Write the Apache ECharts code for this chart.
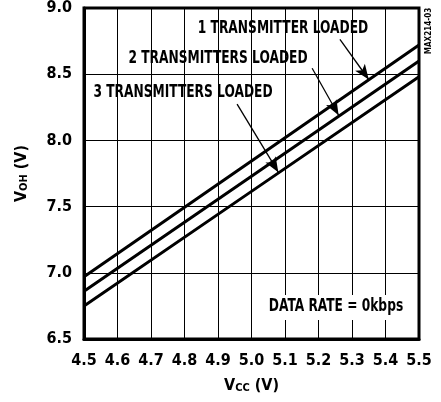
<!DOCTYPE html>
<html><head><meta charset="utf-8">
<script src="https://cdn.jsdelivr.net/npm/echarts@6/dist/echarts.min.js"></script>
<style>html,body{margin:0;padding:0;background:#fff}#c{width:441px;height:402px}</style>
</head><body><div id="c"></div>
<script>
var vcc = [4.5, 5.0, 5.5];
var voh1 = [6.97, 7.845, 8.72];
var voh2 = [6.86, 7.73, 8.60];
var voh3 = [6.75, 7.615, 8.48];
var xTicks = ['4.5','4.6','4.7','4.8','4.9','5.0','5.1','5.2','5.3','5.4','5.5'];
var yTicks = ['6.5','7.0','7.5','8.0','8.5','9.0'];
var seriesNames = ['1 TRANSMITTER LOADED', '2 TRANSMITTERS LOADED', '3 TRANSMITTERS LOADED'];
var arrows = [
  [[5.264, 8.763], [5.35, 8.46]],
  [[5.181, 8.545], [5.26, 8.19]],
  [[4.957, 8.274], [5.08, 7.76]]
];
var FONT = "'DejaVu Sans Condensed','Liberation Sans Narrow',Arial,sans-serif";
function pairs(ys){ return vcc.map(function(x,i){ return [x, ys[i]]; }); }
var chart = echarts.init(document.getElementById('c'), null, {renderer:'canvas'});
var lineStyle = {color:'#000', width:3};
function arrowMark(a){
  return {
    silent:true, animation:false,
    symbol:['none','arrow'], symbolSize:[9,15],
    lineStyle:{color:'#000', width:1.3, type:'solid'},
    label:{show:false},
    data:[[{coord:a[0]},{coord:a[1]}]]
  };
}
function txt(s, x, y, size, sx, extra){
  var o = {type:'text', x:x, y:y, scaleX:sx, z:11,
    style:{text:s, fill:'#000', font:'bold '+size+'px '+FONT, textAlign:'center', textVerticalAlign:'middle'}};
  if (extra) for (var k in extra) o[k]=extra[k];
  return o;
}
chart.setOption({
  animation:false,
  grid:{left:84, right:22, top:6.5, bottom:63, show:true, borderColor:'#000', borderWidth:3, containLabel:false},
  xAxis:{
    type:'value', min:4.5, max:5.5, interval:0.1,
    axisLine:{show:true, lineStyle:{color:'#000', width:3}},
    axisTick:{show:false},
    splitLine:{show:true, lineStyle:{color:'#000', width:1}},
    axisLabel:{color:'#000', fontFamily:FONT, fontWeight:'bold', fontSize:16, margin:14,
      formatter:function(v){ var s=v.toFixed(1); return xTicks.indexOf(s)>=0?s:''; }},
    name:'{v|V}{s|CC}{v| (V)}', nameLocation:'middle', nameGap:38,
    nameTextStyle:{rich:{v:{fontFamily:FONT, fontWeight:'bold', fontSize:16, color:'#000'}, s:{fontFamily:FONT, fontWeight:'bold', fontSize:11, color:'#000', padding:[6,0,0,0]}}}
  },
  yAxis:{
    type:'value', min:6.5, max:9.0, interval:0.5,
    axisLine:{show:true, lineStyle:{color:'#000', width:3}},
    axisTick:{show:false},
    splitLine:{show:true, lineStyle:{color:'#000', width:1}},
    axisLabel:{color:'#000', fontFamily:FONT, fontWeight:'bold', fontSize:16, margin:12,
      formatter:function(v){ var s=v.toFixed(1); return yTicks.indexOf(s)>=0?s:''; }},
    name:'{v|V}{s|OH}{v| (V)}', nameLocation:'middle', nameGap:54, nameRotate:90,
    nameTextStyle:{rich:{v:{fontFamily:FONT, fontWeight:'bold', fontSize:16, color:'#000'}, s:{fontFamily:FONT, fontWeight:'bold', fontSize:11, color:'#000', padding:[6,0,0,0]}}}
  },
  series:[
    {name:seriesNames[0], type:'line', data:pairs(voh1), symbol:'none', lineStyle:lineStyle, markLine:arrowMark(arrows[0])},
    {name:seriesNames[1], type:'line', data:pairs(voh2), symbol:'none', lineStyle:lineStyle, markLine:arrowMark(arrows[1])},
    {name:seriesNames[2], type:'line', data:pairs(voh3), symbol:'none', lineStyle:lineStyle, markLine:arrowMark(arrows[2])}
  ],
  graphic:[
    txt(seriesNames[0], 283, 29, 17, 0.8),
    txt(seriesNames[1], 218, 59, 17, 0.8),
    txt(seriesNames[2], 183, 93, 17, 0.8),
    {type:'rect', shape:{x:265, y:295, width:142, height:25}, style:{fill:'#fff'}, z:10},
    txt('DATA RATE = 0kbps', 336, 307, 17, 0.8),
    txt('MAX214-03', 429, 31, 8, 1, {rotation:Math.PI/2})
  ]
});
</script></body></html>
